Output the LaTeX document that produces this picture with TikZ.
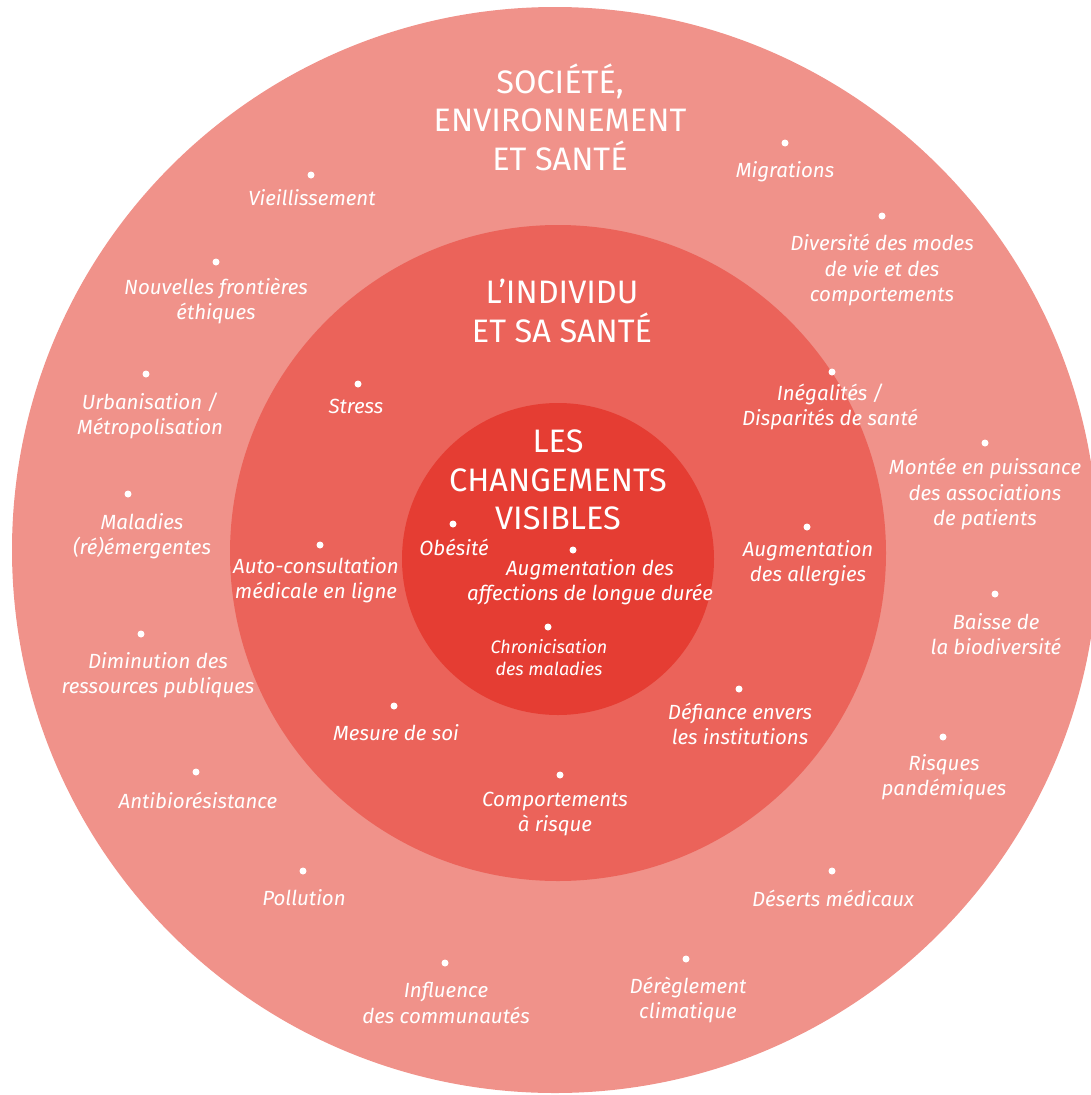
\documentclass[tikz,border=0pt]{standalone}
\usepackage{fontspec}
\setmainfont{Fira Sans}
\usetikzlibrary{positioning}
\definecolor{society}{RGB}{240,146,138}
\definecolor{individual}{RGB}{235,99,90}
\definecolor{visible}{RGB}{229,61,51}

\tikzset{
  spot/.style={circle, fill=white, inner sep=0pt, minimum size=7pt},
  fact/.style={text=white, align=center, inner sep=0pt, font=\fontsize{20.5}{25.5}\selectfont\itshape},
  smallfact/.style={fact, font=\fontsize{18}{22}\selectfont\itshape},
  ringtitle/.style={text=white, align=center, inner sep=0pt, font=\fontsize{32.5}{38.5}\selectfont}
}

\begin{document}
\begin{tikzpicture}[x=1pt, y=-1pt]
  \clip (0,0) rectangle (1091,1095);

  % Rings - drawn first
  \fill[society] (555,550) circle (543pt);
  \fill[individual] (558,553) circle (328pt);
  \fill[visible] (558,559) circle (156pt);

  % Ring titles
  \node[ringtitle] (societytitle) at (560,117) {SOCIÉTÉ,\\ENVIRONNEMENT\\ET SANTÉ};
  \node[ringtitle] (individualtitle) at (562,311) {L’INDIVIDU\\ET SA SANTÉ};
  \node[ringtitle] (visibletitle) at (558,480) {LES\\CHANGEMENTS\\VISIBLES};

  % Outer ring: society, environment and health
  \node[spot] (vieil) at (311,175) {};
  \node[fact] (vieiltxt) at (312,198) {Vieillissement};
  \node[spot] (ethic) at (216,262) {};
  \node[fact] (ethictxt) at (216,301) {Nouvelles frontières\\éthiques};
  \node[spot] (urban) at (146,374) {};
  \node[fact] (urbantxt) at (150,416) {Urbanisation /\\Métropolisation};
  \node[spot] (malad) at (128,494) {};
  \node[fact] (maladtxt) at (142,536) {Maladies\\(ré)émergentes};
  \node[spot] (ressour) at (141,634) {};
  \node[fact] (ressourtxt) at (158,675) {Diminution des\\ressources publiques};
  \node[spot] (antibio) at (196,772) {};
  \node[fact] (antibiotxt) at (198,800) {Antibiorésistance};
  \node[spot] (pollu) at (303,871) {};
  \node[fact] (pollutxt) at (304,898) {Pollution};
  \node[spot] (commu) at (445,963) {};
  \node[fact] (commutxt) at (446,1003) {Influence\\des communautés};
  \node[spot] (climat) at (686,959) {};
  \node[fact] (climattxt) at (688,1000) {Dérèglement\\climatique};
  \node[spot] (desert) at (832,871) {};
  \node[fact] (deserttxt) at (833,898) {Déserts médicaux};
  \node[spot] (pandem) at (943,737) {};
  \node[fact] (pandemtxt) at (944,777) {Risques\\pandémiques};
  \node[spot] (biodiv) at (995,594) {};
  \node[fact] (biodivtxt) at (996,634) {Baisse de\\la biodiversité};
  \node[spot] (assoc) at (985,443) {};
  \node[fact] (assoctxt) at (985,494) {Montée en puissance\\des associations\\de patients};
  \node[spot] (modes) at (882,216) {};
  \node[fact] (modestxt) at (882,270) {Diversité des modes\\de vie et des\\comportements};
  \node[spot] (migra) at (785,143) {};
  \node[fact] (migratxt) at (785,172) {Migrations};

  % Middle ring: the individual and his health
  \node[spot] (stress) at (358,384) {};
  \node[fact] (stresstxt) at (356,406) {Stress};
  \node[spot] (inegal) at (832,372) {};
  \node[fact] (inegaltxt) at (830,407) {Inégalités /\\Disparités de santé};
  \node[spot] (allerg) at (807,527) {};
  \node[fact] (allergtxt) at (808,563) {Augmentation\\des allergies};
  \node[spot] (autocons) at (320,545) {};
  \node[fact] (autoconstxt) at (316,580) {Auto-consultation\\médicale en ligne};
  \node[spot] (mesure) at (394,706) {};
  \node[fact] (mesuretxt) at (396,733) {Mesure de soi};
  \node[spot] (defiance) at (739,689) {};
  \node[fact] (defiancetxt) at (740,724) {Défiance envers\\les institutions};
  \node[spot] (risque) at (560,775) {};
  \node[fact] (risquetxt) at (555,814) {Comportements\\à risque};

  % Inner circle: visible changes
  \node[spot] (obes) at (453,524) {};
  \node[fact] (obestxt) at (454,547) {Obésité};
  \node[spot] (longue) at (573,550) {};
  \node[fact] (longuetxt) at (590,582) {Augmentation des\\affections de longue durée};
  \node[spot] (chron) at (548,627) {};
  \node[smallfact] (chrontxt) at (549,658) {Chronicisation\\des maladies};
\end{tikzpicture}
\end{document}
